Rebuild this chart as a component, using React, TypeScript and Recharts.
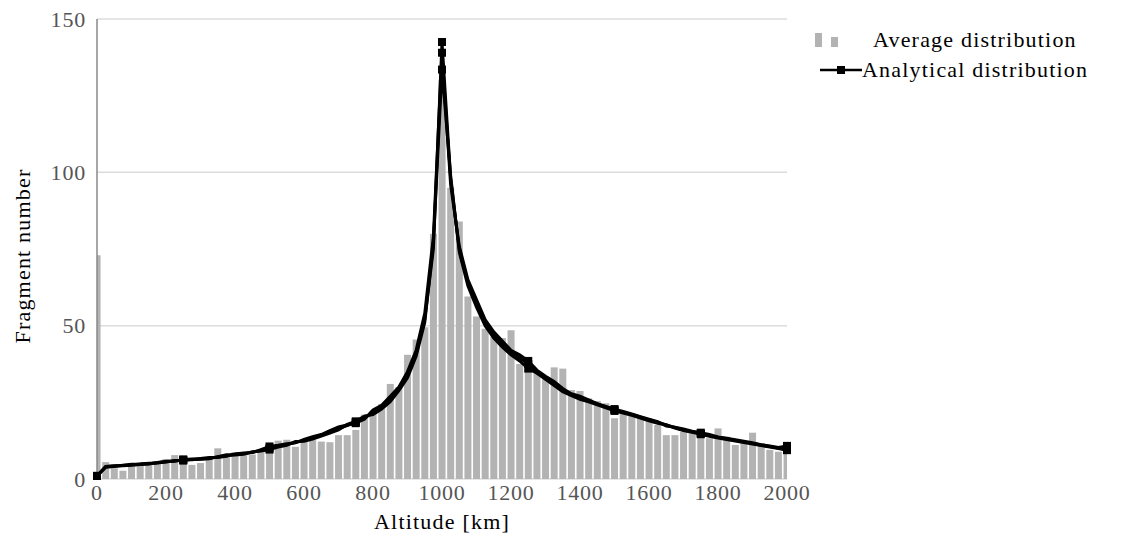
import * as React from "react";
import {
  ComposedChart,
  Bar,
  Line,
  XAxis,
  YAxis,
  CartesianGrid,
  Legend,
} from "recharts";

const FONT = '"Liberation Serif", "DejaVu Serif", serif';

// altitude bins, every 25 km
const altitudes = Array.from({ length: 81 }, (_, i) => i * 25);

// gray histogram
const averageDist = [
  73, 5.5, 3.5, 2.7, 4, 5.5, 5, 5.5, 6.5, 7.8,
  7.3, 4.6, 5.2, 6.5, 10, 7.8, 8.8, 8.4, 8, 9.5,
  11.8, 12.5, 12.8, 10.5, 12.5, 12.7, 12.2, 12, 14.3, 14.3,
  16, 21, 22, 24.5, 31, 30, 40.5, 45.5, 49.5, 80,
  130, 95, 84, 59.5, 53, 49, 46.5, 46, 48.5, 37.5,
  37, 34.5, 33.5, 36.4, 36, 29, 28.7, 26.3, 25.4, 24.7,
  19.8, 22, 21.4, 20.3, 19, 17.6, 14.3, 14.3, 15.4, 15.4,
  14.5, 13.3, 16.5, 13.8, 11.1, 12.2, 15.1, 11.6, 9.5, 8.9,
  10,
];

// analytical curves (several runs drawn on top of each other)
const analyticA = [
  1, 4, 4.2, 4.4, 4.6, 4.8, 5, 5.3, 5.6, 5.9,
  6.2, 6.3, 6.5, 6.8, 7.2, 7.6, 8, 8.3, 8.7, 9.3,
  10, 10.6, 11.3, 11.9, 12.6, 13.4, 14.3, 15.3, 16.4, 17.4,
  18.5, 19.9, 21.5, 23.5, 26, 29.5, 34, 41, 52, 75,
  142.5, 98, 75, 64, 57, 51, 47, 44, 41.5, 39.5,
  37.5, 35, 33, 31, 29, 27.5, 26.5, 25.5, 24.5, 23.5,
  22.5, 21.8, 21, 20.2, 19.3, 18.5, 17.6, 16.8, 16, 15.4,
  14.8, 14.2, 13.6, 13.1, 12.6, 12.1, 11.6, 11.1, 10.6, 10.1,
  9.6,
];
const analyticB = [
  1, 3.8, 4.1, 4.5, 4.8, 4.9, 5.1, 5.2, 5.5, 6,
  6, 6.4, 6.7, 7, 7, 7.4, 8.2, 8.5, 8.6, 9.6,
  10.6, 11, 11.5, 11.8, 12.9, 13.8, 14.5, 15.8, 17, 17.6,
  18.2, 19.5, 22.5, 24, 27, 30, 35, 42, 54, 79,
  139, 96, 76, 65, 58.5, 52, 48, 45, 42, 40.5,
  38.5, 35.5, 33.5, 31.8, 29.5, 27.8, 27, 25.8, 24.6, 23.7,
  22.8, 22, 21.2, 20.3, 19.5, 18.7, 17.3, 16.9, 16.3, 15.6,
  15.1, 14.5, 13.7, 13.3, 12.8, 12.3, 11.8, 11.2, 10.8, 10.3,
  10.8,
];
const analyticC = [
  1, 4.1, 4.3, 4.3, 4.5, 4.7, 4.9, 5.4, 5.8, 5.8,
  6.4, 6.5, 6.4, 6.6, 7.3, 7.9, 7.8, 8.1, 8.9, 9.1,
  9.6, 10.4, 11, 12.2, 12.3, 13, 14, 15, 16, 17.8,
  18.8, 20.5, 21, 22.8, 25.2, 28.8, 33, 40, 51, 77,
  133.5, 99, 74, 63, 56, 50, 46, 43, 40.5, 38.5,
  36, 34.5, 32.5, 30.5, 28.5, 27.2, 26, 25.2, 24.2, 23.2,
  22.2, 21.5, 20.8, 19.9, 19, 18.2, 17.7, 16.6, 15.8, 15.2,
  14.6, 13.9, 13.4, 12.9, 12.4, 11.9, 11.4, 10.9, 10.4, 9.9,
  9.4,
];

const xTicks = [0, 200, 400, 600, 800, 1000, 1200, 1400, 1600, 1800, 2000];
const yTicks = [0, 50, 100, 150];
const markerStep = 250;

const data = altitudes.map((alt, i) => ({
  alt,
  avg: averageDist[i],
  a: analyticA[i],
  b: analyticB[i],
  c: analyticC[i],
}));

const tickStyle = { fontSize: 22, fill: "#555", fontFamily: FONT, letterSpacing: 0.8 };
const titleStyle = { fontSize: 22, fill: "#000", fontFamily: FONT, letterSpacing: 1.2 };

function squareDot(props: any) {
  const { cx, cy, payload, index } = props;
  if (cx == null || cy == null || payload.alt % markerStep !== 0) {
    return <g key={`d-${index}`} />;
  }
  return (
    <rect
      key={`d-${index}`}
      x={cx - 4}
      y={cy - 4}
      width={8}
      height={8}
      fill="#000"
    />
  );
}

function LegendBox() {
  return (
    <div
      style={{
        fontFamily: FONT,
        fontSize: 22,
        letterSpacing: 1.2,
        color: "#000",
        lineHeight: "30px",
        textAlign: "left",
      }}
    >
      <div style={{ display: "flex", alignItems: "center" }}>
        <svg width={63} height={30}>
          <rect x={5} y={8} width={7} height={14} fill="#b3b3b3" />
          <rect x={21} y={12} width={7} height={10} fill="#b3b3b3" />
        </svg>
        <span>Average distribution</span>
      </div>
      <div style={{ display: "flex", alignItems: "center" }}>
        <svg width={52} height={30}>
          <line x1={10} y1={15} x2={52} y2={15} stroke="#000" strokeWidth={2.5} />
          <rect x={27} y={11} width={8} height={8} fill="#000" />
        </svg>
        <span>Analytical distribution</span>
      </div>
    </div>
  );
}

export default function App() {
  return (
    <div style={{ position: "absolute", left: 0, top: 0, background: "#fff" }}>
      <ComposedChart
        width={1122}
        height={542}
        data={data}
        margin={{ top: 19, right: 335, left: 37, bottom: 33 }}
        style={{ fontFamily: FONT }}
      >
        <CartesianGrid horizontal vertical={false} stroke="#dcdcdc" strokeWidth={1.5} />
        <XAxis
          xAxisId="bar"
          dataKey="alt"
          type="number"
          domain={[0, 2000]}
          ticks={xTicks}
          allowDataOverflow
          axisLine={false}
          tickLine={false}
          tickSize={0}
          tickMargin={5}
          height={30}
          tick={tickStyle}
          label={{
            value: "Altitude [km]",
            position: "bottom",
            offset: 4,
            style: titleStyle,
          }}
        />
        <XAxis xAxisId="line" dataKey="alt" type="number" domain={[0, 2000]} hide />
        <YAxis
          domain={[0, 150]}
          ticks={yTicks}
          width={60}
          axisLine={{ stroke: "#888", strokeWidth: 1.5 }}
          tickLine={false}
          tickSize={0}
          tickMargin={11}
          tick={tickStyle}
          label={{
            content: (p: any) => {
              const vb = p.viewBox;
              const x = vb.x - 15;
              const y = vb.y + vb.height / 2 + 7;
              return (
                <text
                  x={x}
                  y={y}
                  transform={`rotate(-90, ${x}, ${y})`}
                  textAnchor="middle"
                  dominantBaseline="central"
                  style={titleStyle}
                >
                  Fragment number
                </text>
              );
            },
          }}
        />
        <Legend
          layout="horizontal"
          verticalAlign="middle"
          align="center"
          content={() => <LegendBox />}
          wrapperStyle={{ position: "absolute", left: 810, top: 25, width: 312 }}
        />
        <Bar
          xAxisId="bar"
          dataKey="avg"
          fill="#b3b3b3"
          barCategoryGap={0.5}
          isAnimationActive={false}
        />
        {(["a", "b", "c"] as const).map((k) => (
          <Line
            key={k}
            xAxisId="line"
            dataKey={k}
            type="linear"
            stroke="#000"
            strokeWidth={3}
            dot={squareDot}
            activeDot={false}
            isAnimationActive={false}
          />
        ))}
      </ComposedChart>
    </div>
  );
}
